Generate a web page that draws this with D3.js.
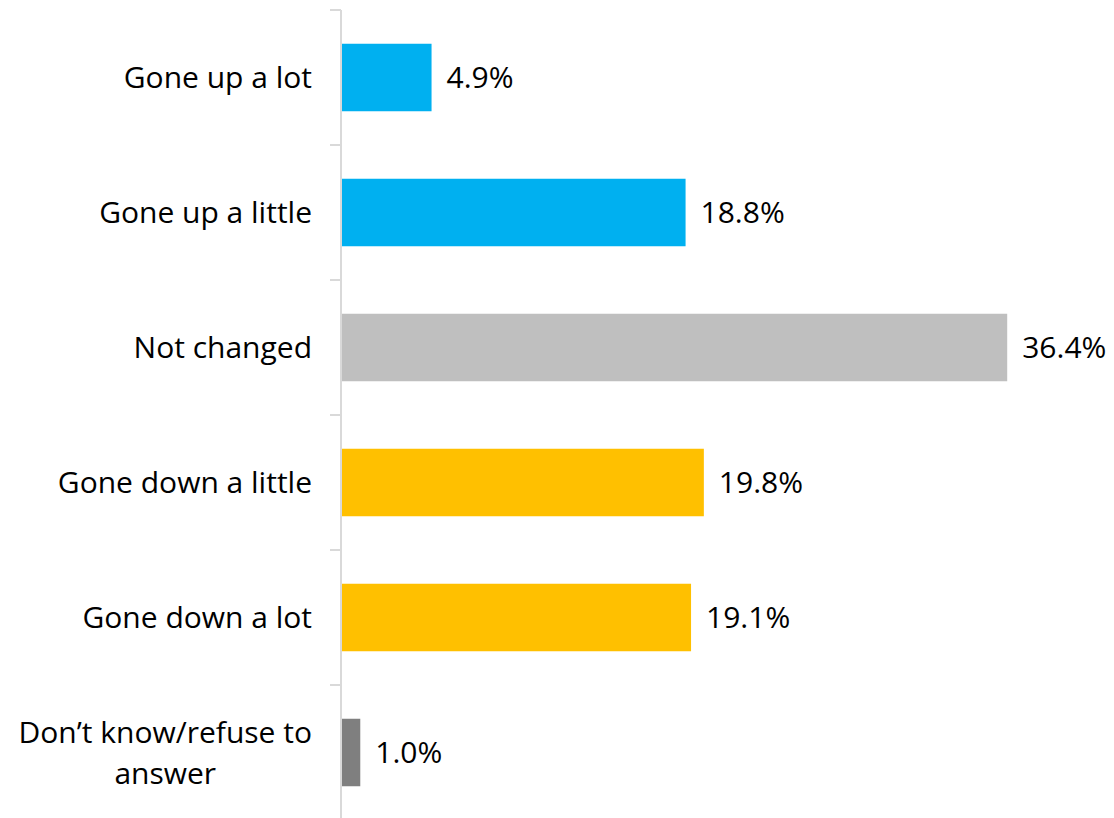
<!DOCTYPE html>
<html>
<head>
<meta charset="utf-8">
<script src="https://cdn.jsdelivr.net/npm/d3@7"></script>
<style>
  html, body { margin: 0; padding: 0; background: #fff; }
  svg text { font-family: "Open Sans", "Noto Sans", sans-serif; fill: #000; }
</style>
</head>
<body>
<svg id="chart" width="1114" height="818"></svg>
<script>
// Survey responses: how spending has changed
const categories = [
  "Gone up a lot",
  "Gone up a little",
  "Not changed",
  "Gone down a little",
  "Gone down a lot",
  "Don\u2019t know/refuse to answer"
];
const values = [4.9, 18.8, 36.4, 19.8, 19.1, 1.0];
const barColors = ["#00B0F0", "#00B0F0", "#BFBFBF", "#FFC000", "#FFC000", "#7F7F7F"];

const svg = d3.select("#chart");
const axisX = 341;
const fontSize = 30;

const x = d3.scaleLinear().domain([0, 40]).range([axisX + 1, axisX + 1 + 731]);
const y = d3.scaleBand().domain(categories).range([10, 820]).paddingInner(0.5).paddingOuter(0.25);

// Category axis line and tick marks at band boundaries
svg.append("line")
  .attr("x1", axisX).attr("x2", axisX)
  .attr("y1", 10).attr("y2", 820)
  .attr("stroke", "#D9D9D9").attr("stroke-width", 2);

const step = y.step();
const boundaries = d3.range(categories.length).map(i => 10 + i * step);
svg.selectAll("line.tick").data(boundaries).join("line")
  .attr("class", "tick")
  .attr("x1", axisX - 11).attr("x2", axisX)
  .attr("y1", d => d).attr("y2", d => d)
  .attr("stroke", "#D9D9D9").attr("stroke-width", 2);

// Bars
svg.selectAll("rect.bar").data(values).join("rect")
  .attr("class", "bar")
  .attr("x", x(0))
  .attr("y", (d, i) => y(categories[i]))
  .attr("width", d => x(d) - x(0))
  .attr("height", y.bandwidth())
  .attr("fill", (d, i) => barColors[i]);

// Value labels
svg.selectAll("text.val").data(values).join("text")
  .attr("class", "val")
  .attr("x", d => x(d) + 15)
  .attr("y", (d, i) => y(categories[i]) + y.bandwidth() / 2)
  .attr("dy", "0.35em")
  .attr("font-size", fontSize)
  .text(d => d.toFixed(1) + "%");

// Category labels, wrapping the long one onto two lines
const wrapLines = {
  "Don\u2019t know/refuse to answer": ["Don\u2019t know/refuse to", "answer"]
};
categories.forEach(c => {
  const lines = wrapLines[c] || [c];
  const cy = y(c) + y.bandwidth() / 2;
  const lh = 41;
  const t = svg.append("text")
    .attr("text-anchor", "middle")
    .attr("font-size", fontSize);
  const anchorRight = 312;
  lines.forEach((ln, k) => {
    t.append("tspan")
      .attr("x", 0)
      .attr("y", cy + (k - (lines.length - 1) / 2) * lh)
      .attr("dy", "0.35em")
      .text(ln);
  });
  // Right-align the block; each line centered within it
  const w = t.node().getBBox().width;
  t.selectAll("tspan").attr("x", anchorRight - w / 2);
});
</script>
</body>
</html>
